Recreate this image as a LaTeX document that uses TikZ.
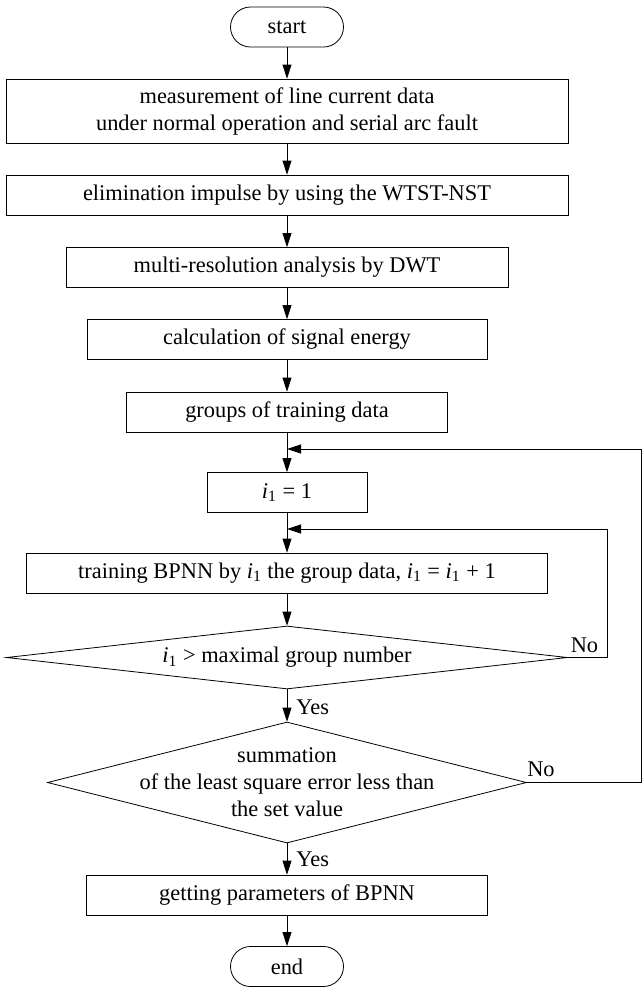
\documentclass[tikz,border=0pt]{standalone}
\usepackage{fontspec}
\setmainfont{Liberation Serif}
\usetikzlibrary{shapes.geometric,arrows.meta}

\newcommand{\ione}{\textit{i}\textsubscript{1}}

\begin{document}
\begin{tikzpicture}[x=0.5pt,y=-0.5pt,
        every node/.style={font=\fontsize{11.2}{13.5}\selectfont},
        block/.style={draw, rectangle, minimum height=20pt, inner sep=0pt, align=center},
        term/.style={draw, rectangle, rounded corners=10pt, minimum width=56.5pt, minimum height=20pt, inner sep=0pt},
        decision/.style={draw, diamond, inner sep=0pt},
        flow/.style={-{Triangle[length=7pt,width=4.5pt]}},
        tag/.style={inner sep=0pt}]
        \useasboundingbox (0,0) rectangle (642,987);

        \node[term] (start) at (287,27) {start};
        \node[block, minimum width=281pt, minimum height=32pt] (meas) at (287,111) {measurement of line current data\\under normal operation and serial arc fault};
        \node[block, minimum width=281pt] (elim) at (287,195) {elimination impulse by using the WTST-NST};
        \node[block, minimum width=221pt] (mra) at (287,267.5) {multi-resolution analysis by DWT};
        \node[block, minimum width=200pt] (energy) at (287,339.5) {calculation of signal energy};
        \node[block, minimum width=160.5pt] (groups) at (287,412) {groups of training data};
        \node[block, minimum width=80pt] (init) at (287,492.5) {\ione{} = 1};
        \node[block, minimum width=260.5pt] (train) at (287,573) {training BPNN by \ione{} the group data, \ione{} = \ione{} + 1};
        \node[decision, minimum width=280.5pt, minimum height=31.5pt,
            label={[tag]center:\ione{} > maximal group number}] (cmp) at (287,657.5) {};
        \node[decision, minimum width=239.5pt, minimum height=60.5pt,
            label={[tag, align=center]center:summation\\of the least square error less than\\the set value}] (err) at (287,782.5) {};
        \node[block, minimum width=200.5pt] (param) at (287,895) {getting parameters of BPNN};
        \node[term] (end) at (287,966.5) {end};

        \node[tag, anchor=west] (yes1) at (296,707) {Yes};
        \node[tag, anchor=west] (yes2) at (296,859) {Yes};
        \node[tag] (no1) at (584.5,645) {No};
        \node[tag] (no2) at (541,769) {No};

        \draw[flow] (start) -- (meas);
        \draw[flow] (meas) -- (elim);
        \draw[flow] (elim) -- (mra);
        \draw[flow] (mra) -- (energy);
        \draw[flow] (energy) -- (groups);
        \draw[flow] (groups) -- (init);
        \draw[flow] (init) -- (train);
        \draw[flow] (train) -- (cmp);
        \draw[flow] (cmp) -- (err);
        \draw[flow] (err) -- (param);
        \draw[flow] (param) -- (end);

        % loops back
        \coordinate (back1) at (641,782.5);
        \coordinate (join1) at (287,449);
        \draw[flow] (err.east) -- (back1) |- (join1);
        \coordinate (back2) at (607,657.5);
        \coordinate (join2) at (287,529);
        \draw[flow] (cmp.east) -- (back2) |- (join2);
    \end{tikzpicture}
\end{document}
